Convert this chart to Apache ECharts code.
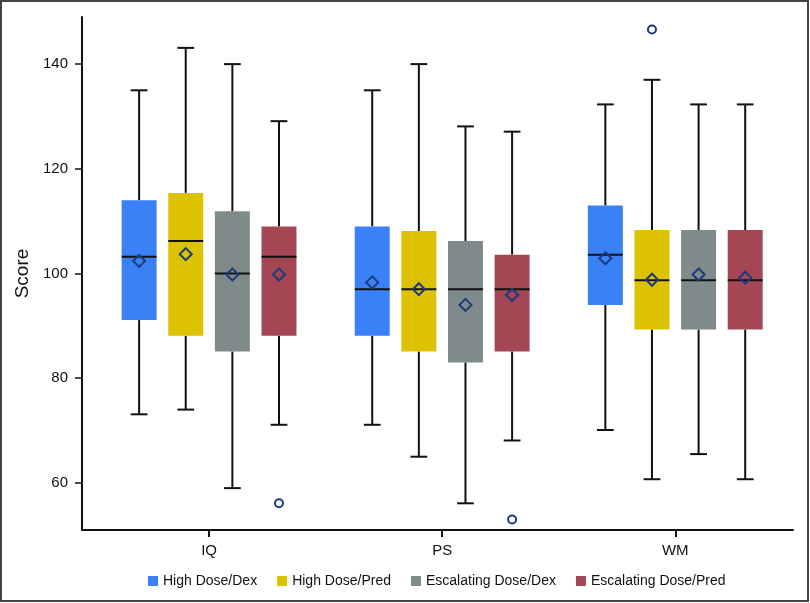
<!DOCTYPE html>
<html>
<head>
<meta charset="utf-8">
<script src="https://cdn.jsdelivr.net/npm/echarts@6/dist/echarts.min.js"></script>
<style>
html, body { margin: 0; padding: 0; background: #fff; }
#main { width: 810px; height: 603px; }
</style>
</head>
<body>
<div id="main"></div>
<script>
// categories on the x axis and the four treatment groups
var categories = ['IQ', 'PS', 'WM'];
var groupNames = ['High Dose/Dex', 'High Dose/Pred', 'Escalating Dose/Dex', 'Escalating Dose/Pred'];
var groupColors = ['#3a80f6', '#dcc200', '#7f8b8a', '#a54655'];
var yTicks = [60, 80, 100, 120, 140];

// each row: [min, q1, median, q3, max, mean] for IQ, PS, WM
var highDoseDex = [
	[73.1, 91.1, 103.2, 114.0, 135.0, 102.4],
	[71.1, 88.1, 97.0, 109.0, 135.0, 98.3],
	[70.1, 94.0, 103.6, 113.0, 132.3, 102.9]
];
var highDosePred = [
	[74.0, 88.1, 106.2, 115.4, 143.1, 103.7],
	[65.0, 85.1, 97.0, 108.1, 140.0, 97.0],
	[60.7, 89.3, 98.7, 108.3, 137.0, 98.8]
];
var escDoseDex = [
	[59.0, 85.1, 100.0, 111.9, 140.0, 99.8],
	[56.1, 83.0, 97.0, 106.2, 128.1, 94.0],
	[65.5, 89.3, 98.7, 108.3, 132.3, 99.8]
];
var escDosePred = [
	[71.1, 88.1, 103.2, 109.0, 129.1, 99.8],
	[68.1, 85.1, 97.0, 103.6, 127.1, 95.9],
	[60.7, 89.3, 98.7, 108.3, 132.3, 99.2]
];
// outliers: [category index, value]
var highDoseDexOut = [];
var highDosePredOut = [[2, 146.6]];
var escDoseDexOut = [];
var escDosePredOut = [[0, 56.1], [1, 53.0]];

var groupData = [highDoseDex, highDosePred, escDoseDex, escDosePred];
var groupOutliers = [highDoseDexOut, highDosePredOut, escDoseDexOut, escDosePredOut];

var offsets = [-0.3, -0.1, 0.1, 0.3];
var boxW = 0.15;
var capW = 0.072;
var navy = '#1c3a7c';
var font = '"Liberation Sans", Arial, sans-serif';

function boxRenderer(gi) {
	return function (params, api) {
		var x = api.value(0) + 1 + offsets[gi];
		var pMin = api.coord([x, api.value(1)]);
		var pQ1 = api.coord([x, api.value(2)]);
		var pMed = api.coord([x, api.value(3)]);
		var pQ3 = api.coord([x, api.value(4)]);
		var pMax = api.coord([x, api.value(5)]);
		var pMean = api.coord([x, api.value(6)]);
		var w = api.size([boxW, 0])[0];
		var cw = api.size([capW, 0])[0];
		var line = { stroke: '#111', lineWidth: 2 };
		var d = 6;
		return {
			type: 'group',
			children: [
				{ type: 'line', shape: { x1: pMax[0], y1: pMax[1], x2: pQ3[0], y2: pQ3[1] }, style: line },
				{ type: 'line', shape: { x1: pMin[0], y1: pMin[1], x2: pQ1[0], y2: pQ1[1] }, style: line },
				{ type: 'line', shape: { x1: pMax[0] - cw / 2, y1: pMax[1], x2: pMax[0] + cw / 2, y2: pMax[1] }, style: line },
				{ type: 'line', shape: { x1: pMin[0] - cw / 2, y1: pMin[1], x2: pMin[0] + cw / 2, y2: pMin[1] }, style: line },
				{ type: 'rect', shape: { x: pQ3[0] - w / 2, y: pQ3[1], width: w, height: pQ1[1] - pQ3[1] }, style: { fill: groupColors[gi] } },
				{ type: 'line', shape: { x1: pMed[0] - w / 2, y1: pMed[1], x2: pMed[0] + w / 2, y2: pMed[1] }, style: line },
				{ type: 'polygon', shape: { points: [[pMean[0], pMean[1] - d], [pMean[0] + d, pMean[1]], [pMean[0], pMean[1] + d], [pMean[0] - d, pMean[1]]] },
					style: { fill: 'none', stroke: navy, lineWidth: 2 } }
			]
		};
	};
}

function outRenderer(gi) {
	return function (params, api) {
		var p = api.coord([api.value(0) + 1 + offsets[gi], api.value(1)]);
		return { type: 'circle', shape: { cx: p[0], cy: p[1], r: 4 }, style: { fill: '#fff', stroke: navy, lineWidth: 2 } };
	};
}

var series = [];
for (var i = 0; i < groupNames.length; i++) {
	series.push({
		name: groupNames[i],
		type: 'custom',
		renderItem: boxRenderer(i),
		itemStyle: { color: groupColors[i] },
		encode: { x: 0, y: [1, 2, 3, 4, 5, 6] },
		data: groupData[i].map(function (r, ci) { return [ci].concat(r); })
	});
	series.push({
		name: groupNames[i],
		type: 'custom',
		renderItem: outRenderer(i),
		itemStyle: { color: groupColors[i] },
		encode: { x: 0, y: 1 },
		data: groupOutliers[i]
	});
}

var chart = echarts.init(document.getElementById('main'));
chart.setOption({
	animation: false,
	textStyle: { fontFamily: font },
	graphic: [{
		type: 'rect', z: 100, silent: true,
		shape: { x: 1, y: 1, width: 807, height: 600 },
		style: { fill: 'none', stroke: '#444', lineWidth: 2 }
	}],
	grid: { left: 82, right: 17, top: 17, bottom: 73 },
	legend: {
		data: groupNames,
		top: 574,
		left: 148,
		padding: 0,
		icon: 'rect',
		itemWidth: 10,
		itemHeight: 10,
		itemGap: 20,
		textStyle: { fontSize: 14, color: '#111', fontFamily: font }
	},
	xAxis: {
		type: 'value',
		min: 0.455,
		max: 3.505,
		splitLine: { show: false },
		axisLine: { lineStyle: { color: '#111', width: 2 } },
		axisTick: { length: 7, lineStyle: { color: '#111', width: 2 }, customValues: [1, 2, 3] },
		axisLabel: {
			customValues: [1, 2, 3],
			formatter: function (v) { return categories[Math.round(v) - 1]; },
			fontSize: 15, color: '#111', margin: 13, fontFamily: font
		}
	},
	yAxis: {
		type: 'value',
		min: 51,
		max: 149,
		name: 'Score',
		nameLocation: 'middle',
		nameGap: 46,
		nameTextStyle: { fontSize: 19, color: '#111', fontFamily: font },
		splitLine: { show: false },
		axisLine: { show: true, lineStyle: { color: '#111', width: 2 } },
		axisTick: { show: true, length: 7, lineStyle: { color: '#111', width: 1.5 }, customValues: yTicks },
		axisLabel: { customValues: yTicks, fontSize: 15, color: '#111', margin: 14, fontFamily: font }
	},
	series: series
});
</script>
</body>
</html>
